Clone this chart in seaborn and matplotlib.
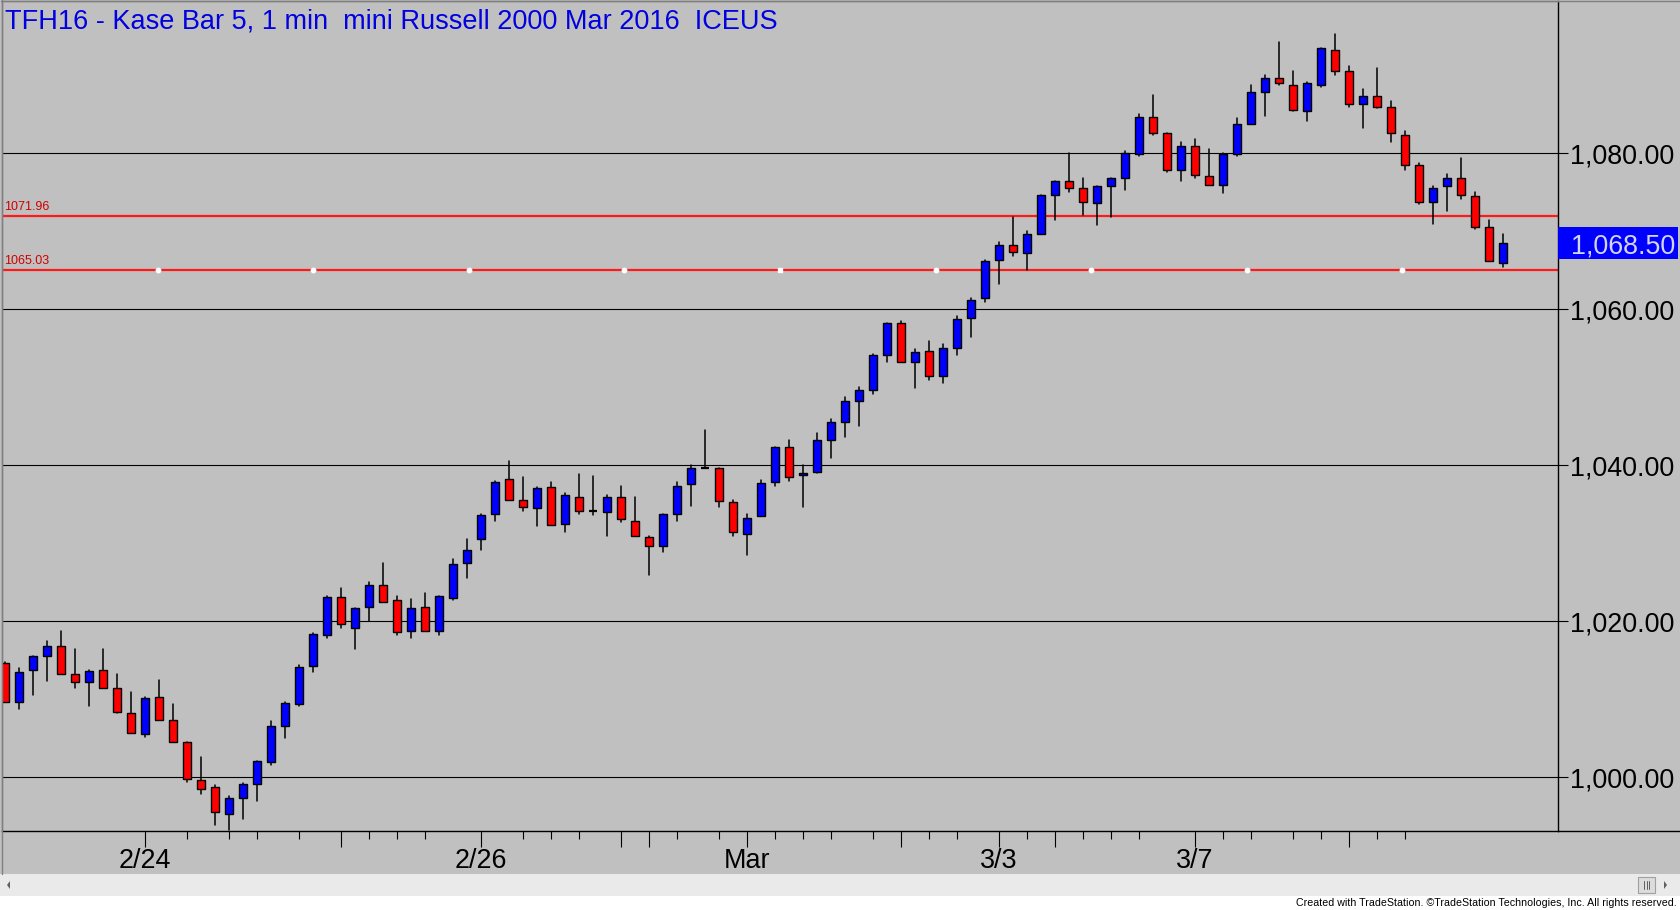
import matplotlib
matplotlib.use("Agg")
import matplotlib.pyplot as plt
import matplotlib.transforms as mtransforms
from matplotlib.patches import Rectangle, Polygon
from matplotlib.lines import Line2D
import numpy as np
import pandas as pd
import seaborn as sns

# ---------------- data ----------------
opens = [1014.7, 1009.7, 1013.7, 1015.5, 1016.9, 1013.3, 1012.2, 1013.7, 1011.5, 1008.3,
         1005.6, 1010.3, 1007.3, 1004.5, 999.7, 998.7, 995.3, 997.3, 999.2, 1002.0,
         1006.6, 1009.4, 1014.3, 1018.3, 1023.1, 1019.1, 1021.8, 1024.7, 1022.7, 1018.7,
         1021.8, 1018.8, 1023.0, 1027.5, 1030.5, 1033.7, 1038.2, 1035.5, 1034.5, 1037.2,
         1032.5, 1036.0, 1034.1, 1034.0, 1036.0, 1032.9, 1030.8, 1029.7, 1033.8, 1037.6,
         1039.7, 1039.6, 1035.3, 1031.2, 1033.5, 1037.8, 1042.4, 1038.7, 1039.1, 1043.2,
         1045.5, 1048.3, 1049.7, 1054.2, 1058.3, 1053.3, 1054.6, 1051.5, 1055.0, 1058.9,
         1061.4, 1066.3, 1068.3, 1067.2, 1069.6, 1074.6, 1076.4, 1075.5, 1073.6, 1075.8,
         1076.9, 1079.9, 1084.6, 1082.6, 1077.9, 1081.0, 1077.1, 1075.9, 1079.9, 1083.8,
         1087.8, 1089.7, 1088.8, 1085.4, 1088.8, 1093.3, 1090.5, 1086.3, 1087.4, 1085.9,
         1082.4, 1078.5, 1073.8, 1075.8, 1076.8, 1074.5, 1070.5, 1066.0]
highs = [1014.8, 1014.0, 1015.5, 1017.5, 1018.8, 1016.5, 1013.7, 1016.5, 1013.2, 1010.9,
         1010.3, 1012.5, 1009.4, 1004.5, 1002.6, 999.0, 997.6, 999.3, 1002.1, 1007.2,
         1009.6, 1014.4, 1018.5, 1023.2, 1024.3, 1021.7, 1025.0, 1027.5, 1023.2, 1022.8,
         1023.6, 1023.3, 1028.0, 1030.6, 1033.8, 1038.0, 1040.6, 1038.5, 1037.2, 1037.8,
         1036.5, 1038.9, 1038.6, 1036.2, 1037.4, 1035.9, 1031.0, 1033.8, 1037.9, 1040.1,
         1044.5, 1039.6, 1035.6, 1033.8, 1038.1, 1042.4, 1043.2, 1040.0, 1044.1, 1046.0,
         1048.7, 1050.1, 1054.3, 1058.3, 1058.5, 1054.9, 1055.9, 1055.5, 1059.1, 1061.5,
         1066.3, 1068.6, 1071.9, 1070.1, 1074.6, 1076.5, 1080.0, 1076.9, 1075.8, 1076.9,
         1080.3, 1085.0, 1087.5, 1082.6, 1081.5, 1081.9, 1080.5, 1080.0, 1084.5, 1088.7,
         1090.0, 1094.3, 1090.6, 1089.1, 1093.5, 1095.3, 1091.2, 1088.2, 1090.9, 1086.7,
         1082.8, 1078.7, 1075.8, 1077.4, 1079.4, 1075.1, 1071.4, 1069.6]
lows = [1009.7, 1008.8, 1010.6, 1012.4, 1013.3, 1011.5, 1009.1, 1011.5, 1008.3, 1005.7,
        1005.2, 1007.4, 1004.5, 999.4, 997.8, 993.9, 993.2, 994.7, 997.0, 1001.6,
        1005.0, 1009.1, 1013.5, 1017.9, 1019.1, 1016.5, 1020.0, 1022.5, 1018.2, 1017.9,
        1018.7, 1018.2, 1022.7, 1025.6, 1029.2, 1032.9, 1035.5, 1034.1, 1032.2, 1032.4,
        1031.4, 1033.8, 1033.6, 1031.0, 1032.7, 1030.9, 1026.0, 1028.9, 1032.9, 1034.8,
        1039.6, 1034.6, 1030.9, 1028.5, 1033.5, 1037.4, 1038.0, 1034.6, 1039.0, 1040.9,
        1043.6, 1045.0, 1049.1, 1053.3, 1053.3, 1049.9, 1051.0, 1050.5, 1054.2, 1056.5,
        1061.0, 1063.3, 1066.9, 1065.0, 1069.6, 1071.5, 1075.1, 1072.1, 1070.8, 1071.9,
        1075.3, 1079.6, 1082.3, 1077.6, 1076.4, 1076.9, 1075.9, 1074.9, 1079.6, 1083.7,
        1084.8, 1088.7, 1085.4, 1084.1, 1088.5, 1090.1, 1086.0, 1083.3, 1085.8, 1081.5,
        1077.8, 1073.5, 1071.0, 1072.6, 1074.1, 1070.3, 1066.2, 1065.4]
closes = [1009.7, 1013.5, 1015.5, 1016.8, 1013.3, 1012.2, 1013.6, 1011.5, 1008.4, 1005.7,
          1010.2, 1007.4, 1004.5, 999.8, 998.5, 995.5, 997.3, 999.2, 1002.1, 1006.6,
          1009.5, 1014.2, 1018.4, 1023.1, 1019.6, 1021.7, 1024.7, 1022.5, 1018.6, 1021.7,
          1018.7, 1023.2, 1027.4, 1029.1, 1033.6, 1037.9, 1035.5, 1034.7, 1037.1, 1032.4,
          1036.2, 1034.2, 1034.1, 1036.0, 1033.1, 1031.0, 1029.7, 1033.8, 1037.4, 1039.6,
          1039.7, 1035.4, 1031.5, 1033.3, 1037.7, 1042.4, 1038.5, 1039.0, 1043.2, 1045.5,
          1048.3, 1049.7, 1054.2, 1058.3, 1053.3, 1054.5, 1051.5, 1055.1, 1058.8, 1061.2,
          1066.2, 1068.3, 1067.3, 1069.7, 1074.6, 1076.4, 1075.5, 1073.7, 1075.8, 1076.9,
          1080.0, 1084.6, 1082.6, 1077.9, 1081.0, 1077.2, 1075.9, 1079.9, 1083.8, 1087.8,
          1089.7, 1089.0, 1085.5, 1089.0, 1093.5, 1090.5, 1086.3, 1087.3, 1085.9, 1082.6,
          1078.5, 1073.8, 1075.6, 1076.8, 1074.6, 1070.5, 1066.2, 1068.5]

level_values = [1071.96, 1065.03]
last_price = 1068.50
y_ticks = [1000, 1020, 1040, 1060, 1080]
x_label_pos = [10, 34, 53, 71, 85]
x_labels = ["2/24", "2/26", "Mar", "3/3", "3/7"]
x_long_unlabeled = [24, 44, 46, 64, 75, 96]
x_short_ticks = [13, 16, 18, 21, 26, 28, 30, 37, 39, 41, 48, 51, 55, 57, 59, 62, 66, 68,
                 73, 77, 79, 81, 87, 89, 92, 94, 98, 100]
title = "TFH16 - Kase Bar 5, 1 min  mini Russell 2000 Mar 2016  ICEUS"
footer = "Created with TradeStation. \u00a9TradeStation Technologies, Inc. All rights reserved."

# ---------------- style ----------------
sns.set_theme(style="white")
plt.rcParams['font.family'] = ['Liberation Sans', 'DejaVu Sans']

W, H = 1680, 910
BG = '#c0c0c0'
fig = plt.figure(figsize=(W / 100, H / 100), dpi=100, facecolor=BG)
L, R, T, B = 2, 1558, 1, 831
ax = fig.add_axes([L / W, 1 - B / H, (R - L) / W, (B - T) / H])
ax.set_facecolor(BG)

def fx(px):
    return px / W

def fy(py):
    return 1 - py / H

df = pd.DataFrame({"idx": np.arange(len(opens)), "open": opens, "high": highs,
                   "low": lows, "close": closes})
df["dir"] = np.sign(df["close"] - df["open"])

# wicks through seaborn (one unit per candle)
wick = pd.concat([df[["idx", "low"]].rename(columns={"low": "price"}),
                  df[["idx", "high"]].rename(columns={"high": "price"})])
sns.lineplot(data=wick, x="idx", y="price", units="idx", estimator=None, sort=False,
             color="black", lw=1.1, ax=ax, zorder=3, legend=False)

body = df[df["dir"] != 0]
colors = np.where(body["dir"] > 0, "#0000ff", "#ff0000")
ax.bar(body["idx"], (body["close"] - body["open"]).abs(),
       bottom=np.minimum(body["open"], body["close"]), width=0.6,
       color=colors, edgecolor="black", linewidth=1.0, zorder=4)
doji = df[df["dir"] == 0]
ax.hlines(doji["close"], doji["idx"] - 0.32, doji["idx"] + 0.32, color="black", lw=1.6, zorder=4)

# limits
ax.set_xlim(-0.214, 110.93)
ax.set_ylim(993.12, 1099.53)

# gridlines & y axis
ax.set_axisbelow(True)
ax.yaxis.tick_right()
ax.set_yticks(y_ticks)
ax.set_yticklabels([f"{v:,.2f}" for v in y_ticks])
ax.grid(axis="y", color="black", lw=0.8)
ax.grid(axis="x", visible=False)
ax.tick_params(axis="y", which="major", direction="out", length=7.5, width=0.8,
               color="black", pad=1.0, labelsize=19.4, labelcolor="black",
               right=True, left=False)

# x axis
major_pos = sorted(x_label_pos + x_long_unlabeled)
lab_map = dict(zip(x_label_pos, x_labels))
ax.set_xticks(major_pos)
ax.set_xticklabels([lab_map.get(p, "") for p in major_pos])
ax.set_xticks(x_short_ticks, minor=True)
ax.tick_params(axis="x", which="major", direction="out", length=11.5, width=0.8,
               color="black", pad=0.5, labelsize=19.4, labelcolor="black", bottom=True)
ax.tick_params(axis="x", which="minor", direction="out", length=5.8, width=0.8,
               color="black", bottom=True)
ax.set_xlabel("")
ax.set_ylabel("")

for s in ["left", "top"]:
    ax.spines[s].set_color("#808080")
    ax.spines[s].set_linewidth(1.0)
for s in ["right", "bottom"]:
    ax.spines[s].set_color("black")
    ax.spines[s].set_linewidth(1.0)
    ax.spines[s].set_visible(True)

# level lines
blend = mtransforms.blended_transform_factory(ax.transAxes, ax.transData)
for v in level_values:
    ax.axhline(v, color="#ff1a1a", lw=1.6, zorder=2.5)
    ax.annotate(f"{v:.2f}", xy=(2 / (R - L), v), xycoords=blend, xytext=(0, 2.5),
                textcoords="offset points", ha="left", va="bottom", fontsize=9,
                color="#d00000", zorder=6)
for k in range(1, 10):
    f = k / 10
    ax.plot([f], [level_values[1]], transform=blend, marker="s" if k == 5 else "o",
            ms=3.5 if k == 5 else 3.2, mfc="white", mec="white", zorder=5, clip_on=False)

# last price tag
ax.add_patch(Rectangle((1.0, last_price - 2.05), 120 / (R - L), 4.1, transform=blend,
                       facecolor="#0000ff", edgecolor="none", clip_on=False, zorder=6))
ax.text(1.0 + 117 / (R - L), last_price, f"{last_price:,.2f}", transform=blend,
        ha="right", va="center_baseline", fontsize=19.4, color="#d4d4ee", zorder=7,
        clip_on=False)

# title
ax.text(3 / (R - L), 1 - 7 / (B - T), title, transform=ax.transAxes, ha="left", va="top",
        fontsize=19.5, color="#0000e0", zorder=7)

# extend the x axis line across the price scale
fig.add_artist(Line2D([fx(R), 1], [fy(B), fy(B)], color="black", lw=1.0))
# outer window border
fig.add_artist(Line2D([fx(0.5), 1], [fy(0.5), fy(0.5)], color="#808080", lw=1.0))
fig.add_artist(Line2D([fx(1.5), fx(1.5)], [fy(0), fy(874)], color="#808080", lw=1.0))

# scrollbar and footer strip
fig.patches.append(Rectangle((0, fy(896)), 1, (896 - 874) / H, transform=fig.transFigure,
                             facecolor="#eaeaea", edgecolor="none", zorder=0))
fig.patches.append(Rectangle((0, 0), 1, fy(896), transform=fig.transFigure,
                             facecolor="white", edgecolor="none", zorder=0))
fig.patches.append(Polygon([(fx(7), fy(885)), (fx(10), fy(881)), (fx(10), fy(889))],
                           closed=True, transform=fig.transFigure, facecolor="#606060",
                           edgecolor="none"))
fig.patches.append(Rectangle((fx(1638), fy(893)), (1655 - 1638) / W, (893 - 877) / H,
                             transform=fig.transFigure, facecolor="#dcdcdc",
                             edgecolor="#a0a0a0", lw=0.8))
for xx in (1644, 1646.5, 1649):
    fig.add_artist(Line2D([fx(xx), fx(xx)], [fy(881), fy(889)], color="#606060", lw=0.7))
fig.patches.append(Polygon([(fx(1667), fy(885)), (fx(1664), fy(881)), (fx(1664), fy(889))],
                           closed=True, transform=fig.transFigure, facecolor="#606060",
                           edgecolor="none"))

fig.text(fx(1677), fy(903.5), footer, ha="right", va="center", fontsize=7.7,
         family=["Liberation Sans Narrow", "Liberation Sans", "DejaVu Sans"], color="black")

fig.savefig("out.png", dpi=100, facecolor=BG)
